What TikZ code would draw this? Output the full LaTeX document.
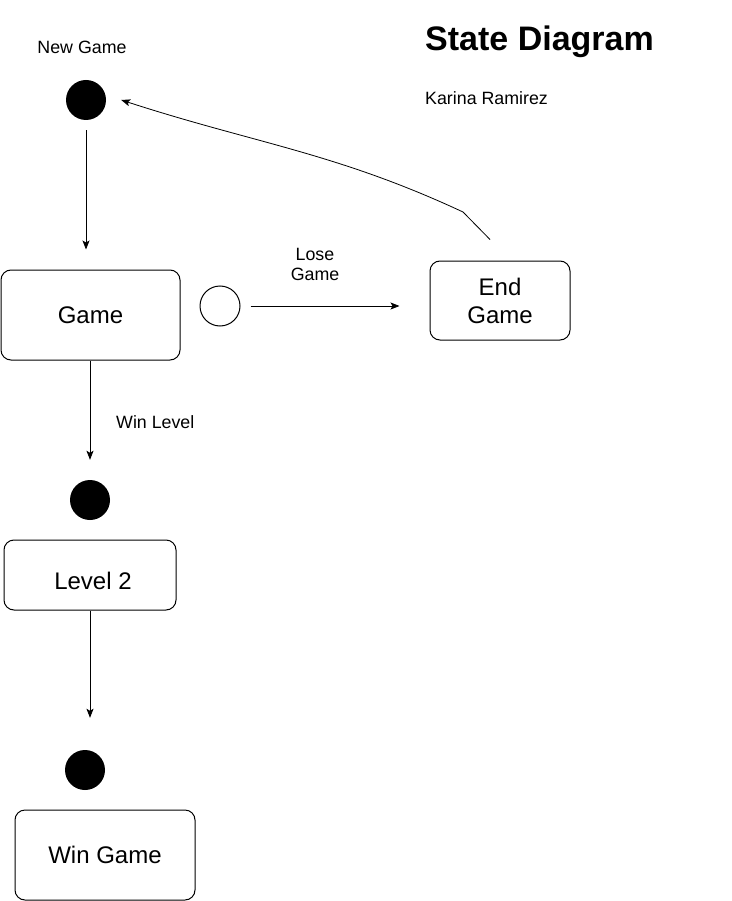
\documentclass[tikz,border=0pt]{standalone}
\usepackage{fontspec}
\setmainfont{Liberation Sans}
\usetikzlibrary{arrows.meta}
\def\smallfont{\fontsize{17.8}{20}\selectfont}
\def\bigfont{\fontsize{24}{28}\selectfont}
\tikzset{
  state/.style={draw, rounded corners=10pt, line width=1pt, font=\bigfont, align=center, inner sep=0pt},
  initial/.style={circle, fill=black, minimum size=40pt, inner sep=0pt},
  choice/.style={circle, draw, line width=1pt, minimum size=40pt, inner sep=0pt},
  note/.style={font=\smallfont, align=center, inner sep=0pt},
  flow/.style={line width=0.8pt, -{Stealth[length=9pt,width=7pt,inset=2pt]}}
}
\begin{document}
\begin{tikzpicture}[x=1pt, y=-1pt]
			%%%%% START %%%%%
			\useasboundingbox (0, 0) rectangle (731, 901);
			
			\node[font=\fontsize{34}{40}\selectfont\bfseries, anchor=west, inner sep=0pt] (title) at (425, 42) {State Diagram};
			\node[note, anchor=west] (author) at (425, 98) {Karina Ramirez};
			
			\node[note] (newgame) at (82, 47) {New Game};
			\node[initial] (start1) at (86, 100) {};
			\node[state, minimum width=179pt, minimum height=90pt] (game) at (90.5, 315) {Game};
			
			\node[choice] (lose) at (220, 306) {};
			\node[note] (loselbl) at (315, 264) {Lose\\Game};
			\node[state, minimum width=140pt, minimum height=79pt] (endg) at (500, 300.5) {End\\Game};
			
			\node[note, anchor=west] (winlbl) at (116, 422) {Win Level};
			\node[initial] (start2) at (90, 500) {};
			\node[state, minimum width=172pt, minimum height=70pt, text height=29pt, text depth=0pt] (level2) at (90, 575) {\hspace*{6pt}Level 2};
			
			\node[initial] (start3) at (85, 770) {};
			\node[state, minimum width=180pt, minimum height=90pt] (wingame) at (105, 855) {Win Game};
			
			\coordinate (bend) at (463, 212);
			
			\draw[flow, shorten <=10pt, shorten >=20pt] (start1) -- (start1 |- game.north);
			\draw[flow, shorten <=10pt, shorten >=30pt] (lose.east) -- (lose.east -| endg.west);
			\draw[flow, shorten >=20pt] (game.south -| start2) -- (start2.north);
			\draw[flow, shorten >=32pt] (level2.south -| start2) -- (start2 |- start3.north);
			\draw[flow] ([xshift=-10pt, yshift=21pt]endg.north) -- (bend) to[out=155, in=-18] ([xshift=15pt]start1.east);
			
			%%%%% END %%%%%
		\end{tikzpicture}
\end{document}
